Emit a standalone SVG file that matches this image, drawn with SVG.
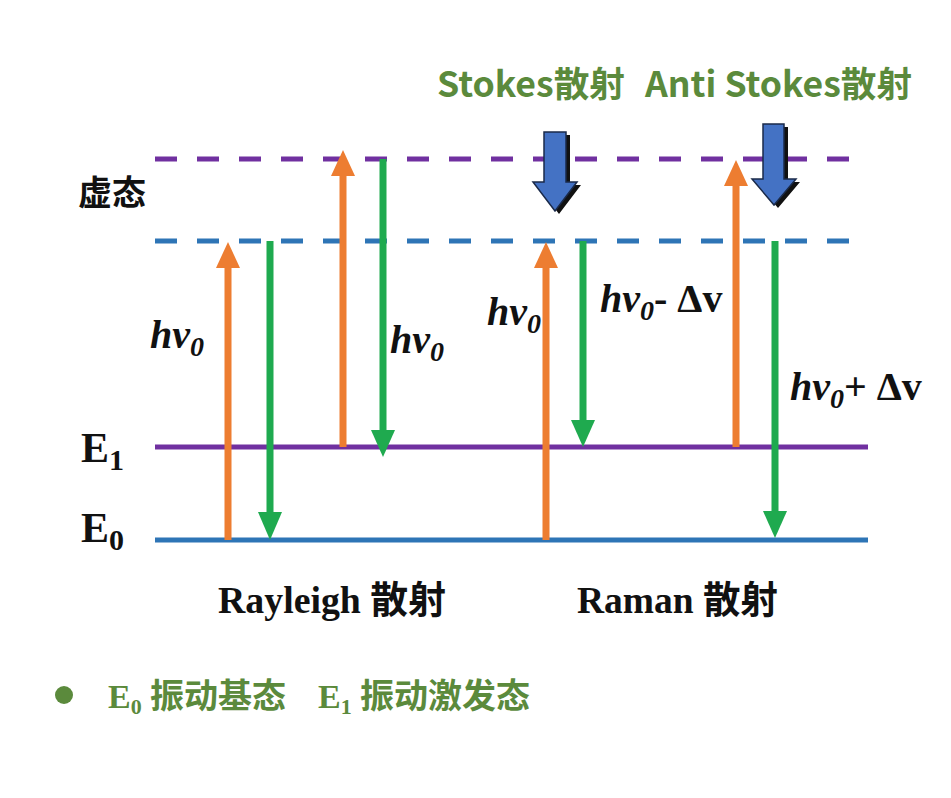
<svg xmlns="http://www.w3.org/2000/svg" width="951" height="798" viewBox="0 0 951 798">
<style>
.lvl{stroke-width:5;fill:none}
.dash{stroke-dasharray:22 20}
.up{stroke:#ED7D31;stroke-width:7;fill:none}
.dn{stroke:#1FAA4F;stroke-width:7;fill:none}
.hup{fill:#ED7D31}
.hdn{fill:#1FAA4F}
.tm{font-family:"Liberation Serif",serif;font-weight:bold;fill:#111}
.hv{font-family:"Liberation Serif",serif;font-weight:bold;font-style:italic;font-size:40px;fill:#111}
.cj{font-family:"Noto Sans CJK SC","Noto Sans",sans-serif;font-weight:bold}
.gr{fill:#5B8A3C}
.blk{fill:#4472C4;stroke:#1a2a4a;stroke-width:1.5}
.shd{fill:#111}
</style>
<rect width="951" height="798" fill="#fff"/>
<g id="levels">
<line class="lvl dash" x1="155" y1="159" x2="860" y2="159" stroke="#7030A0"/>
<line class="lvl dash" x1="155" y1="241" x2="860" y2="241" stroke="#2E75B6"/>
<line class="lvl" x1="155" y1="447" x2="868" y2="447" stroke="#7030A0"/>
<line class="lvl" x1="155" y1="540" x2="868" y2="540" stroke="#2E75B6"/>
</g>
<g id="connectors">
<line class="up" x1="228" y1="540" x2="228" y2="264"/><polygon class="hup" points="216,268 240,268 228,242"/>
<line class="dn" x1="270" y1="241" x2="270" y2="515"/><polygon class="hdn" points="258,512 282,512 270,540"/>
<line class="up" x1="343" y1="447" x2="343" y2="172"/><polygon class="hup" points="331,176 355,176 343,150"/>
<line class="dn" x1="383" y1="159" x2="383" y2="432"/><polygon class="hdn" points="371,430 395,430 383,457"/>
<line class="up" x1="546" y1="540" x2="546" y2="264"/><polygon class="hup" points="534,268 558,268 546,242"/>
<line class="dn" x1="583" y1="241" x2="583" y2="422"/><polygon class="hdn" points="571,420 595,420 583,447"/>
<line class="up" x1="736" y1="447" x2="736" y2="182"/><polygon class="hup" points="724,186 748,186 736,160"/>
<line class="dn" x1="775" y1="241" x2="775" y2="513"/><polygon class="hdn" points="763,511 787,511 775,538"/>
</g>
<g id="stokes-arrow">
<polygon class="shd" points="548,135 570,135 570,185 581,185 559,214 537,185 548,185"/>
<polygon class="blk" points="544,132 566,132 566,182 577,182 555,211 533,182 544,182"/>
</g>
<g id="antistokes-arrow">
<polygon class="shd" points="767,127 788,127 788,182 800,182 778,208 756,182 767,182"/>
<polygon class="blk" points="763,124 784,124 784,179 796,179 774,205 752,179 763,179"/>
</g>
<g id="labels">
<text class="cj gr" x="437" y="97" font-size="35" textLength="188" lengthAdjust="spacingAndGlyphs">Stokes散射</text>
<text class="cj gr" x="645" y="97" font-size="35" textLength="267" lengthAdjust="spacingAndGlyphs">Anti Stokes散射</text>
<text class="cj" x="78" y="205" font-size="34" fill="#111">虚态</text>
<text class="hv" x="150" y="348">hv<tspan font-size="28" dy="8">0</tspan></text>
<text class="hv" x="390" y="353">hv<tspan font-size="28" dy="8">0</tspan></text>
<text class="hv" x="487" y="325">hv<tspan font-size="28" dy="8">0</tspan></text>
<text class="hv" x="600" y="312">hv<tspan font-size="28" dy="8">0</tspan><tspan dy="-8" font-style="normal">- Δv</tspan></text>
<text class="hv" x="790" y="400">hv<tspan font-size="28" dy="8">0</tspan><tspan dy="-8" font-style="normal">+ Δv</tspan></text>
<text class="tm" x="81" y="462" font-size="42">E<tspan font-size="30" dy="8">1</tspan></text>
<text class="tm" x="81" y="542" font-size="42">E<tspan font-size="30" dy="8">0</tspan></text>
<text x="218" y="613" font-size="38" textLength="228" lengthAdjust="spacingAndGlyphs"><tspan class="tm">Rayleigh </tspan><tspan class="cj" fill="#111">散射</tspan></text>
<text x="577" y="613" font-size="38" textLength="201" lengthAdjust="spacingAndGlyphs"><tspan class="tm">Raman </tspan><tspan class="cj" fill="#111">散射</tspan></text>
</g>
<g id="legend">
<circle cx="64" cy="695" r="9" fill="#5B8A3C"/>
<text x="108" y="708" font-size="34" class="gr"><tspan font-family="Liberation Serif,serif" font-weight="bold">E</tspan><tspan font-family="Liberation Serif,serif" font-weight="bold" font-size="22" dy="6">0</tspan><tspan dy="-6" class="cj" x="150">振动基态</tspan><tspan font-family="Liberation Serif,serif" font-weight="bold" x="318">E</tspan><tspan font-family="Liberation Serif,serif" font-weight="bold" font-size="22" dy="6">1</tspan><tspan dy="-6" class="cj" x="360">振动激发态</tspan></text>
</g>
</svg>
